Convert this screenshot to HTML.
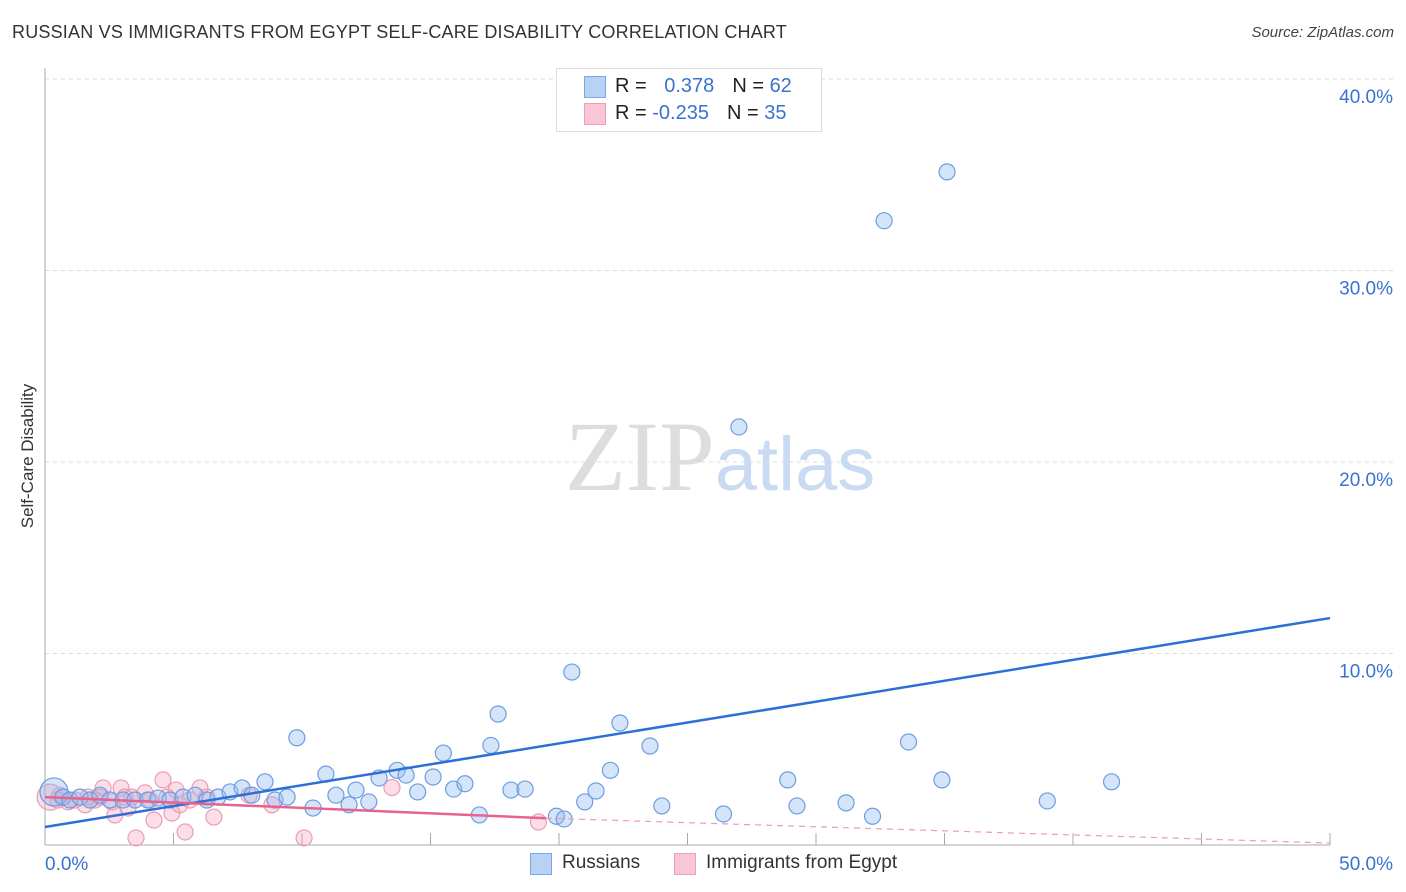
<!DOCTYPE html>
<html><head><meta charset="utf-8"><style>
body{margin:0;background:#fff;font-family:"Liberation Sans",sans-serif;}
#wrap{position:relative;width:1406px;height:892px;overflow:hidden;}
.t{position:absolute;white-space:nowrap;}
</style></head><body>
<div id="wrap">
<div class="t" style="left:12px;top:22px;font-size:18px;letter-spacing:0.2px;color:#333;">RUSSIAN VS IMMIGRANTS FROM EGYPT SELF-CARE DISABILITY CORRELATION CHART</div>
<div class="t" style="right:12px;top:24px;font-size:15px;color:#444;font-style:italic;">Source: ZipAtlas.com</div>
<div class="t" style="left:28px;top:456px;font-size:17px;color:#333;transform:translate(-50%,-50%) rotate(-90deg);">Self-Care Disability</div>
<svg id="svg" width="1406" height="892" style="position:absolute;left:0;top:0"></svg>
<div style="position:absolute;left:556px;top:68px;width:264px;height:62px;border:1px solid #ddd;background:#fff;font-size:20px;">
 <div style="position:absolute;left:27px;top:7px;width:20px;height:20px;background:#b8d2f5;border:1px solid #7aa7e6;"></div>
 <div class="t" style="left:58px;top:6px;color:#222;">R = <span style="color:#3a72d2;margin-left:12px">0.378</span><span style="color:#222;margin-left:18px">N = </span><span style="color:#3a72d2">62</span></div>
 <div style="position:absolute;left:27px;top:34px;width:20px;height:20px;background:#f9c6d6;border:1px solid #eca0b8;"></div>
 <div class="t" style="left:58px;top:33px;color:#222;">R = <span style="color:#3a72d2">-0.235</span><span style="color:#222;margin-left:18px">N = </span><span style="color:#3a72d2">35</span></div>
</div>
<div style="position:absolute;left:530px;top:853px;width:20px;height:20px;background:#b8d2f5;border:1px solid #7aa7e6;"></div>
<div class="t" style="left:562px;top:852px;font-size:19px;color:#333;">Russians</div>
<div style="position:absolute;left:674px;top:853px;width:20px;height:20px;background:#f9c6d6;border:1px solid #eca0b8;"></div>
<div class="t" style="left:706px;top:852px;font-size:19px;color:#333;">Immigrants from Egypt</div>
</div>
<script>
const xTicks=[0,50];
const yTicks=[10,20,30,40];
const blueX=[0.35,0.7,0.97,1.36,1.75,2.14,2.53,3.04,3.5,4.0,4.4,4.86,5.37,5.84,6.3,6.73,7.2,7.67,8.05,8.56,8.95,9.42,9.8,10.43,10.93,11.32,11.83,12.1,12.6,13.0,13.7,14.05,14.5,15.1,15.5,15.9,16.34,16.9,17.35,17.63,18.13,18.68,19.9,20.2,20.5,21.0,21.44,22.0,22.37,23.54,24.0,26.4,27.0,28.9,29.26,31.17,32.2,32.65,33.6,34.9,35.1,39.0,41.5];
const blueY=[2.77,2.5,2.35,2.5,2.35,2.6,2.35,2.35,2.35,2.35,2.45,2.35,2.5,2.6,2.35,2.5,2.77,2.98,2.6,3.3,2.35,2.5,5.6,1.93,3.7,2.6,2.1,2.87,2.25,3.5,3.9,3.65,2.77,3.55,4.8,2.92,3.2,1.57,5.2,6.84,2.87,2.92,1.5,1.36,9.03,2.25,2.82,3.9,6.37,5.17,2.04,1.62,21.83,3.4,2.04,2.2,1.5,32.6,5.38,3.4,35.15,2.3,3.3];
const pinkX=[0.2,0.5,0.9,1.17,1.67,2.14,2.26,2.61,2.72,2.96,3.23,3.38,3.89,4.24,4.59,4.75,4.94,5.1,5.25,5.45,6.03,6.3,6.57,7.94,8.83,10.08,13.5,19.2,3.54,0.58,1.95,1.56,4.09,5.64,3.11];
const pinkY=[2.5,2.35,2.25,2.35,2.5,2.5,2.98,2.25,1.57,2.98,1.93,2.5,2.72,1.3,3.4,2.5,1.67,2.87,2.1,0.68,2.98,2.5,1.46,2.6,2.1,0.37,3.0,1.2,0.37,2.6,2.35,2.1,2.35,2.35,2.5];
const bigBlue=[0], bigPink=[0];
const blueLine=[0.94,11.85];
const pinkLine=[2.5,1.4,0.1];
const pinkSolidEnd=19.5;
const X=v=>45+v/50*1285, Y=v=>845-v*19.15;
const svg=document.getElementById('svg');const NS='http://www.w3.org/2000/svg';
function el(t,a){const e=document.createElementNS(NS,t);for(const k in a)e.setAttribute(k,a[k]);svg.appendChild(e);return e;}
yTicks.forEach(v=>{const l=el('line',{x1:45,x2:1393,y1:Y(v),y2:Y(v),stroke:'#ddd','stroke-dasharray':'4,4'});


const t=el('text',{x:1393,y:Y(v)+24,'text-anchor':'end','font-size':19,fill:'#3a72d2','font-family':'Liberation Sans'});t.textContent=v.toFixed(1)+'%';

});
const ax=el('line',{x1:45,x2:45,y1:68,y2:845,stroke:'#aaa'});


const bx=el('line',{x1:45,x2:1330,y1:845,y2:845,stroke:'#aaa'});


for(let i=1;i<=10;i++){const tk=el('line',{x1:X(i*5),x2:X(i*5),y1:833,y2:845,stroke:'#aaa'});

}
xTicks.forEach(v=>{const t=el('text',{x:v==0?45:1393,y:870,'text-anchor':v==0?'start':'end','font-size':19,fill:'#3a72d2','font-family':'Liberation Sans'});t.textContent=v.toFixed(1)+'%';

});
const wm=el('text',{x:720,y:490,'text-anchor':'middle','font-size':100,'font-family':'Liberation Serif',fill:'#ddd'});wm.innerHTML='ZIP<tspan fill="#c9dbf3" font-family="Liberation Sans" font-size="76">atlas</tspan>';


pinkX.forEach((x,i)=>{const c=el('circle',{cx:X(x),cy:Y(pinkY[i]),r:bigPink.includes(i)?13:8,fill:'rgba(245,160,185,0.35)',stroke:'#eb9cb6','stroke-width':1.2});

});
blueX.forEach((x,i)=>{const c=el('circle',{cx:X(x),cy:Y(blueY[i]),r:bigBlue.includes(i)?14:8,fill:'rgba(150,190,240,0.4)',stroke:'#6b9de0','stroke-width':1.2});

});
const bl=el('line',{x1:X(0),y1:Y(blueLine[0]),x2:X(50),y2:Y(blueLine[1]),stroke:'#2c6fd8','stroke-width':2.5});


const pl=el('line',{x1:X(0),y1:Y(pinkLine[0]),x2:X(pinkSolidEnd),y2:Y(pinkLine[1]),stroke:'#e8628f','stroke-width':2.5});


const pd=el('line',{x1:X(pinkSolidEnd),y1:Y(pinkLine[1]),x2:X(50),y2:Y(pinkLine[2]),stroke:'#eb9cb6','stroke-width':1.2,'stroke-dasharray':'6,5'});


</script>
</body></html>
